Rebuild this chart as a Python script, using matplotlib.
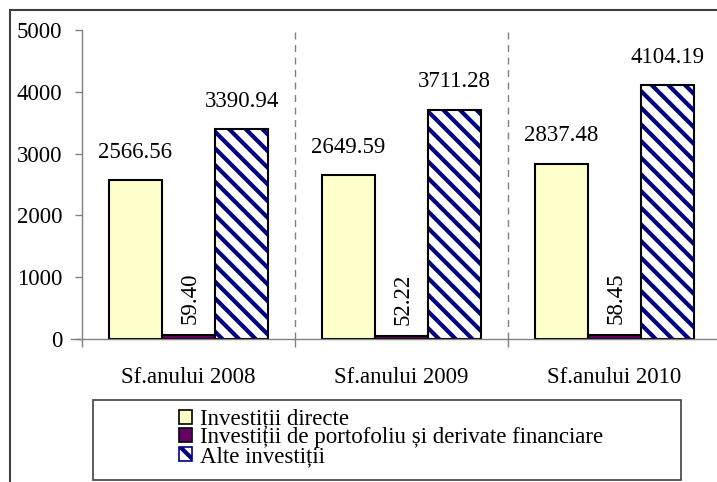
import matplotlib
matplotlib.use("Agg")
import matplotlib.pyplot as plt
from matplotlib.patches import Rectangle, Patch
import numpy as np

plt.rcParams['font.family'] = ['Liberation Serif', 'DejaVu Serif']
plt.rcParams['hatch.linewidth'] = 3.0

categorii = ["Sf.anului 2008", "Sf.anului 2009", "Sf.anului 2010"]
serii = ["Investiții directe",
         "Investiții de portofoliu și derivate financiare",
         "Alte investiții"]
directe = [2566.56, 2649.59, 2837.48]
portofoliu = [59.40, 52.22, 58.45]
alte = [3390.94, 3711.28, 4104.19]

W, H = 717, 482
fig = plt.figure(figsize=(W / 100, H / 100), dpi=100)
fs = 16.5
navy = '#000080'

# cadru exterior
fig.patches.append(Rectangle((10 / W, -0.1), 1.2, (H - 10) / H + 0.1,
                             transform=fig.transFigure, fill=False,
                             edgecolor='#404040', linewidth=1.5))

ax = fig.add_axes([82 / W, (H - 339) / H, (721 - 82) / W, 309 / H])
x = np.arange(3) + 0.5
w = 0.25
b1 = ax.bar(x - w, directe, w, color='#FFFFCC', edgecolor='black', linewidth=1.5)
b2 = ax.bar(x, portofoliu, w, color='#660066', edgecolor='black', linewidth=1.5)
# hasura bleumarin, contur negru
ax.bar(x + w, alte, w, color='white', edgecolor=navy, linewidth=0, hatch='\\\\')
b3 = ax.bar(x + w, alte, w, fill=False, edgecolor='black', linewidth=1.5)

for bars in (b1, b3):
    for r in bars:
        ax.annotate(f"{r.get_height():.2f}", (r.get_x() + r.get_width() / 2, r.get_height()),
                    xytext=(0, 16), textcoords='offset points', ha='center',
                    va='baseline', fontsize=fs)
for r in b2:
    ax.annotate(f"{r.get_height():.2f}", (r.get_x() + r.get_width() / 2, r.get_height()),
                xytext=(1, 8), textcoords='offset points', ha='center',
                va='bottom', rotation=90, fontsize=fs)

for xv in [1, 2]:
    ax.axvline(xv, color='#808080', linestyle=(0, (5, 4)), linewidth=1)

ax.set_xlim(0, 3)
ax.set_ylim(0, 5000)
ax.set_yticks(range(0, 5001, 1000))
ax.set_xticks(x)
ax.set_xticklabels(categorii)
ax.set_xticks([0, 1, 2, 3], minor=True)
ax.tick_params(axis='x', which='major', length=0, pad=20, labelsize=fs)
ax.tick_params(axis='x', which='minor', length=6, width=1, color='#808080', direction='out')
ax.tick_params(axis='y', length=5, width=1, color='#808080', pad=9, labelsize=fs)
for s in ['top', 'right']:
    ax.spines[s].set_visible(False)
for s in ['left', 'bottom']:
    ax.spines[s].set_color('#808080')
    ax.spines[s].set_linewidth(1)
ax.spines['bottom'].set_bounds(-0.05, 3)

# legenda
fig.patches.append(Rectangle((93 / W, (H - 480) / H), (681 - 93) / W, 80 / H,
                             transform=fig.transFigure, fill=False,
                             edgecolor='#404040', linewidth=1.2))
handles = [Patch(facecolor='#FFFFCC', edgecolor='black', linewidth=1.2),
           Patch(facecolor='#660066', edgecolor='black', linewidth=1.2),
           Patch(facecolor='white', edgecolor=navy, linewidth=1.2, hatch='\\\\')]
fig.legend(handles, serii, loc='center', bbox_to_anchor=(391 / W, (H - 438) / H),
           frameon=False, fontsize=fs, handlelength=0.57, handleheight=0.57,
           handletextpad=0.35, labelspacing=-0.1, borderpad=0)

fig.savefig("out.png", dpi=100)
